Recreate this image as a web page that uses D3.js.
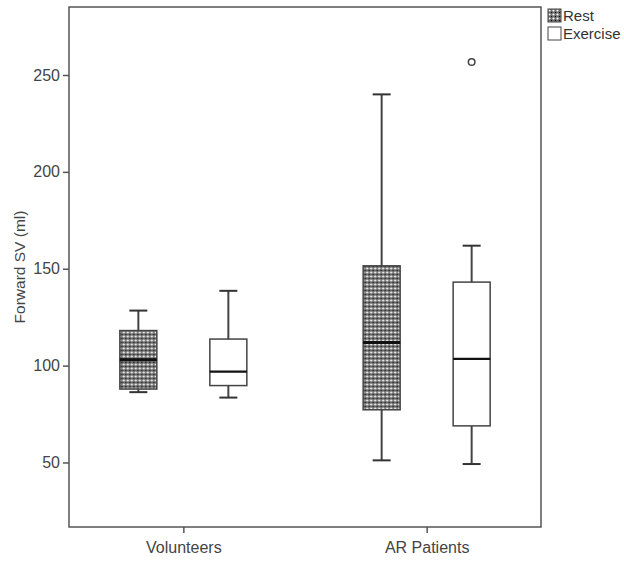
<!DOCTYPE html>
<html>
<head>
<meta charset="utf-8">
<script src="https://cdn.jsdelivr.net/npm/d3@7"></script>
<style>
  body { margin: 0; background: #fff; }
  svg { display: block; font-family: "Liberation Sans", Arial, sans-serif; }
</style>
</head>
<body>
<div id="chart"></div>
<script>
// data
var groups = ["Volunteers", "AR Patients"];
var series = ["Rest", "Exercise"];
var yTicks = [50, 100, 150, 200, 250];

// [low whisker, Q1, median, Q3, high whisker] per group
var restStats = [[86.3, 87.9, 103.0, 118.1, 128.4], [51.1, 77.2, 111.9, 151.5, 240.0]];
var exerciseStats = [[83.5, 89.7, 96.9, 113.7, 138.6], [49.2, 68.9, 103.5, 143.1, 161.9]];
var restOutliers = [[], []];
var exerciseOutliers = [[], [256.7]];

var width = 624, height = 561;
var margin = {top: 7, right: 83, bottom: 34, left: 69};
var chartW = width - margin.left - margin.right,
    chartH = height - margin.top - margin.bottom;

var rows = [];
groups.forEach(function(g, gi) {
  rows.push({group: g, series: "Rest", s: restStats[gi], out: restOutliers[gi]});
  rows.push({group: g, series: "Exercise", s: exerciseStats[gi], out: exerciseOutliers[gi]});
});

var svg = d3.select("#chart").append("svg")
  .attr("width", width).attr("height", height);

// checkered fill used for "Rest"
var pat = svg.append("defs").append("pattern")
  .attr("id", "checker")
  .attr("patternUnits", "userSpaceOnUse")
  .attr("width", 4).attr("height", 4);
pat.append("rect").attr("width", 4).attr("height", 4).attr("fill", "#6a6a6a");
pat.append("circle").attr("cx", 1.5).attr("cy", 1.5).attr("r", 1.1).attr("fill", "#fff");
pat.append("rect").attr("x", 3).attr("y", 3).attr("width", 1).attr("height", 1).attr("fill", "#111");

var g = svg.append("g")
  .attr("transform", "translate(" + margin.left + "," + margin.top + ")");

var x0 = d3.scalePoint().domain(groups).range([0, chartW]).padding(0.47);
var x1 = d3.scaleBand().domain(series).range([-90, 90]);
var y = d3.scaleLinear().domain([16.7, 285.1]).range([chartH, 0]);

var boxW = 37, capW = 18;
var fills = {Rest: "url(#checker)", Exercise: "#fff"};

// frame
g.append("rect")
  .attr("width", chartW).attr("height", chartH)
  .attr("fill", "none").attr("stroke", "#555").attr("stroke-width", 1.5);

var yAxis = g.append("g")
  .call(d3.axisLeft(y).tickValues(yTicks).tickSize(6).tickPadding(3));
var xAxis = g.append("g")
  .attr("transform", "translate(0," + chartH + ")")
  .call(d3.axisBottom(x0).tickSize(6).tickPadding(9));

[yAxis, xAxis].forEach(function(a) {
  a.select(".domain").remove();
  a.selectAll(".tick line").attr("stroke", "#555").attr("stroke-width", 1.5);
  a.selectAll(".tick text").attr("fill", "#444").style("font-size", "16px");
});

g.append("text")
  .attr("transform", "translate(" + (20 - margin.left) + "," + (chartH / 2) + ") rotate(-90)")
  .attr("text-anchor", "middle")
  .attr("dy", "0.35em")
  .attr("fill", "#444")
  .style("font-size", "15.5px")
  .text("Forward SV (ml)");

var boxes = g.selectAll(".box")
  .data(rows)
  .enter().append("g")
  .classed("box", true)
  .attr("transform", function(d) { return "translate(" + (x0(d.group) + x1(d.series) + x1.bandwidth() / 2) + ",0)"; });

// whiskers
boxes.append("line")
  .attr("y1", function(d) { return y(d.s[0]); })
  .attr("y2", function(d) { return y(d.s[4]); })
  .attr("stroke", "#444").attr("stroke-width", 2);
boxes.selectAll(".cap")
  .data(function(d) { return [d.s[0], d.s[4]]; })
  .enter().append("line")
  .attr("x1", -capW / 2).attr("x2", capW / 2)
  .attr("y1", function(v) { return y(v); })
  .attr("y2", function(v) { return y(v); })
  .attr("stroke", "#333").attr("stroke-width", 2);

// box
boxes.append("rect")
  .attr("x", -boxW / 2).attr("width", boxW)
  .attr("y", function(d) { return y(d.s[3]); })
  .attr("height", function(d) { return y(d.s[1]) - y(d.s[3]); })
  .attr("fill", function(d) { return fills[d.series]; })
  .attr("stroke", "#444").attr("stroke-width", 1.5);

// median
boxes.append("line")
  .attr("x1", -boxW / 2).attr("x2", boxW / 2)
  .attr("y1", function(d) { return y(d.s[2]); })
  .attr("y2", function(d) { return y(d.s[2]); })
  .attr("stroke", "#111")
  .attr("stroke-width", function(d) { return d.series === "Rest" ? 3 : 2.2; });

// outliers
boxes.selectAll(".out")
  .data(function(d) { return d.out; })
  .enter().append("circle")
  .attr("cy", function(v) { return y(v); })
  .attr("r", 3.3)
  .attr("fill", "none").attr("stroke", "#444").attr("stroke-width", 1.5);

// legend
var legend = svg.append("g").attr("transform", "translate(548,9)");
var li = legend.selectAll(".item")
  .data(series)
  .enter().append("g")
  .attr("transform", function(d, i) { return "translate(0," + (i * 18) + ")"; });
li.append("rect")
  .attr("width", 13).attr("height", 13)
  .attr("fill", function(d) { return fills[d]; })
  .attr("stroke", "#444").attr("stroke-width", 1);
li.append("text")
  .attr("x", 15).attr("y", 7).attr("dy", "0.35em")
  .attr("fill", "#333")
  .style("font-size", "15px")
  .text(function(d) { return d; });
</script>
</body>
</html>
